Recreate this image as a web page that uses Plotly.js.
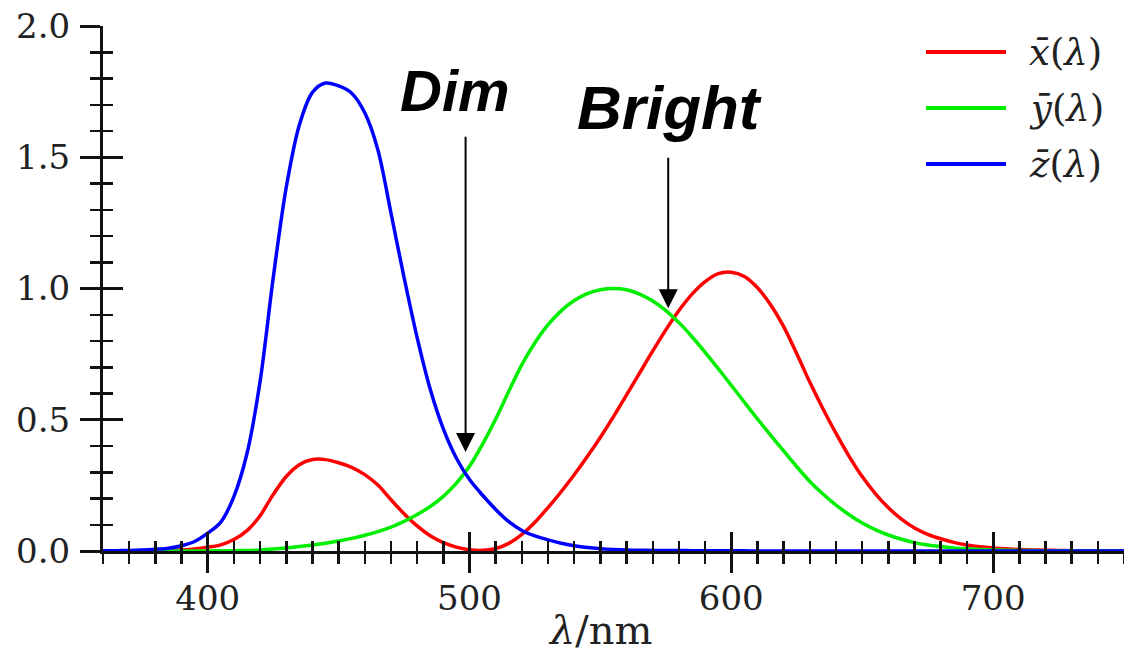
<!DOCTYPE html>
<html>
<head>
<meta charset="utf-8">
<script src="https://cdn.plot.ly/plotly-3.0.1.min.js"></script>
<style>html,body{margin:0;padding:0;background:#fff;}#chart{width:1124px;height:657px;}</style>
</head>
<body>
<div id="chart"></div>
<script>
// wavelength (nm)
const wavelength = [360,365,370,375,380,385,390,395,400,405,410,415,420,425,430,435,440,445,450,455,460,465,470,475,480,485,490,495,500,505,510,515,520,525,530,535,540,545,550,555,560,565,570,575,580,585,590,595,600,605,610,615,620,625,630,635,640,645,650,655,660,665,670,675,680,685,690,695,700,705,710,715,720,725,730,735,740,745,750];
// x-bar(λ) — red
const xBar = [0.0001,0.0002,0.0004,0.0007,0.0014,0.0022,0.0042,0.0077,0.0143,0.0232,0.0435,0.0776,0.1344,0.2148,0.2839,0.3285,0.3483,0.3481,0.3362,0.3187,0.2908,0.2511,0.1954,0.1421,0.0956,0.0580,0.0320,0.0147,0.0049,0.0024,0.0093,0.0291,0.0633,0.1096,0.1655,0.2258,0.2904,0.3597,0.4335,0.5121,0.5945,0.6784,0.7621,0.8425,0.9163,0.9786,1.0263,1.0567,1.0622,1.0456,1.0026,0.9384,0.8545,0.7514,0.6424,0.5419,0.4479,0.3608,0.2835,0.2187,0.1649,0.1212,0.0874,0.0636,0.0468,0.0329,0.0227,0.0158,0.0114,0.0081,0.0058,0.0041,0.0029,0.0020,0.0014,0.0010,0.0007,0.0005,0.0003];
// y-bar(λ) — green
const yBar = [0.0000,0.0000,0.0000,0.0000,0.0000,0.0001,0.0001,0.0002,0.0004,0.0006,0.0012,0.0022,0.0040,0.0073,0.0116,0.0168,0.0230,0.0298,0.0380,0.0480,0.0600,0.0739,0.0910,0.1126,0.1390,0.1693,0.2080,0.2586,0.3230,0.4073,0.5030,0.6082,0.7100,0.7932,0.8620,0.9149,0.9540,0.9803,0.9950,1.0000,0.9950,0.9786,0.9520,0.9154,0.8700,0.8163,0.7570,0.6949,0.6310,0.5668,0.5030,0.4412,0.3810,0.3210,0.2650,0.2170,0.1750,0.1382,0.1070,0.0816,0.0610,0.0446,0.0320,0.0232,0.0170,0.0119,0.0082,0.0057,0.0041,0.0029,0.0021,0.0015,0.0010,0.0007,0.0005,0.0004,0.0002,0.0002,0.0001];
// z-bar(λ) — blue
const zBar = [0.0006,0.0011,0.0019,0.0035,0.0065,0.0106,0.0201,0.0362,0.0679,0.1102,0.2074,0.3713,0.6456,1.0391,1.3856,1.6230,1.7471,1.7826,1.7721,1.7441,1.6692,1.5281,1.2876,1.0419,0.8130,0.6162,0.4652,0.3533,0.2720,0.2123,0.1582,0.1117,0.0783,0.0573,0.0422,0.0298,0.0203,0.0134,0.0088,0.0058,0.0039,0.0028,0.0021,0.0018,0.0017,0.0014,0.0011,0.0010,0.0008,0.0006,0.0003,0.0002,0.0002,0.0001,0.0001,0.0000,0.0000,0.0000,0.0000,0.0000,0.0000,0.0000,0.0000,0.0000,0.0000,0.0000,0.0000,0.0000,0.0000,0.0000,0.0000,0.0000,0.0000,0.0000,0.0000,0.0000,0.0000,0.0000,0.0000];

const seriesNames = ['<i>x̄</i>(<i>λ</i>)','<i>ȳ</i>(<i>λ</i>)','<i>z̄</i>(<i>λ</i>)'];
const seriesColors = ['#ff0000','#00ee00','#0000ff'];
const seriesValues = [xBar, yBar, zBar];

// annotation labels and pointed wavelengths
const labels = ['Dim','Bright'];
const labelX = [494.5, 576.2];
const labelY = [1.755, 1.69];
const labelSize = [58, 62];
const arrowX = [498.5, 575.9];
const arrowTail = [1.584, 1.504];
const arrowTip = [0.377, 0.925];

const xRange = [360, 750];
const yRange = [0, 2];

// blue series is placed on the overlaying axes pair (same ranges) so those axes draw their inside ticks
const traces = seriesValues.map((v, i) => ({
  type: 'scatter', mode: 'lines', x: wavelength, y: v,
  name: seriesNames[i], showlegend: false,
  xaxis: i === 2 ? 'x2' : 'x', yaxis: i === 2 ? 'y2' : 'y',
  line: {color: seriesColors[i], width: 3.5, shape: 'spline', smoothing: 0.9}
}));

const tickFont = {family: 'DejaVu Serif', size: 34, color: '#222'};
const common = {showgrid: false, zeroline: false, fixedrange: true};

const annotations = [];
const shapes = [];
labels.forEach((t, i) => {
  annotations.push({x: labelX[i], y: labelY[i], xref: 'x', yref: 'y', text: t, showarrow: false,
    font: {family: 'Liberation Sans', size: labelSize[i], color: '#000', weight: 'bold', style: 'italic'},
    xanchor: 'center', yanchor: 'middle'});
  annotations.push({x: arrowX[i], y: arrowTip[i], ax: arrowX[i], ay: arrowTail[i], axref: 'x', ayref: 'y',
    xref: 'x', yref: 'y', text: '', showarrow: true, arrowhead: 2, arrowsize: 1.9, arrowwidth: 2, arrowcolor: '#000',
    standoff: 0, startstandoff: 0});
});
// legend (swatch + label), positioned in container pixels
seriesNames.forEach((n, i) => {
  const yc = 52 + 56 * i;
  shapes.push({type: 'line', xref: 'paper', yref: 'paper', layer: 'above',
    x0: (926 - 103) / 1021, x1: (1006 - 103) / 1021, y0: (551 - yc) / 525, y1: (551 - yc) / 525,
    line: {color: seriesColors[i], width: 4}});
  annotations.push({xref: 'paper', yref: 'paper', x: (1027 - 103) / 1021, y: (551 - yc) / 525,
    xanchor: 'left', yanchor: 'middle', text: n, showarrow: false,
    font: {family: 'DejaVu Serif', size: 37, color: '#222'}});
});
// axis title
annotations.push({xref: 'paper', yref: 'paper', x: (600 - 103) / 1021, y: (551 - 630) / 525,
  xanchor: 'center', yanchor: 'middle', text: '<i>λ</i>/nm', showarrow: false,
  font: {family: 'DejaVu Serif', size: 40, color: '#222'}});

const layout = {
  width: 1124, height: 657,
  margin: {l: 103, r: 0, t: 26, b: 106, pad: 0},
  paper_bgcolor: '#fff', plot_bgcolor: '#fff',
  showlegend: false,
  xaxis: Object.assign({}, common, {
    range: xRange, tick0: 0, dtick: 100, ticks: 'outside', ticklen: 19, tickwidth: 3, tickcolor: '#111',
    showline: true, linewidth: 3, linecolor: '#111', tickfont: tickFont, ticklabelstandoff: -4,
    minor: {dtick: 10, tick0: 0, ticks: 'outside', ticklen: 10, tickwidth: 2.5, tickcolor: '#111'}
  }),
  xaxis2: Object.assign({}, common, {
    overlaying: 'x', anchor: 'y', side: 'bottom', range: xRange, tick0: 0, dtick: 100, ticks: 'inside', ticklen: 19, tickwidth: 3,
    tickcolor: '#111', showline: false, showticklabels: false,
    minor: {dtick: 10, tick0: 0, ticks: 'inside', ticklen: 10, tickwidth: 2.5, tickcolor: '#111'}
  }),
  yaxis: Object.assign({}, common, {
    range: yRange, tick0: 0, dtick: 0.5, ticks: 'outside', ticklen: 20, tickwidth: 3, tickcolor: '#111',
    showline: true, linewidth: 3, linecolor: '#111', tickfont: tickFont, tickformat: '.1f', ticklabelstandoff: 3,
    minor: {dtick: 0.1, tick0: 0, ticks: 'outside', ticklen: 10, tickwidth: 2.5, tickcolor: '#111'}
  }),
  yaxis2: Object.assign({}, common, {
    overlaying: 'y', anchor: 'x', side: 'left', range: yRange, tick0: 0, dtick: 0.5, ticks: 'inside', ticklen: 20,
    tickwidth: 3, tickcolor: '#111', showline: false, showticklabels: false,
    minor: {dtick: 0.1, tick0: 0, ticks: 'inside', ticklen: 10, tickwidth: 2.5, tickcolor: '#111'}
  }),
  annotations: annotations,
  shapes: shapes
};

Plotly.newPlot('chart', traces, layout, {staticPlot: true, displayModeBar: false});
</script>
</body>
</html>
